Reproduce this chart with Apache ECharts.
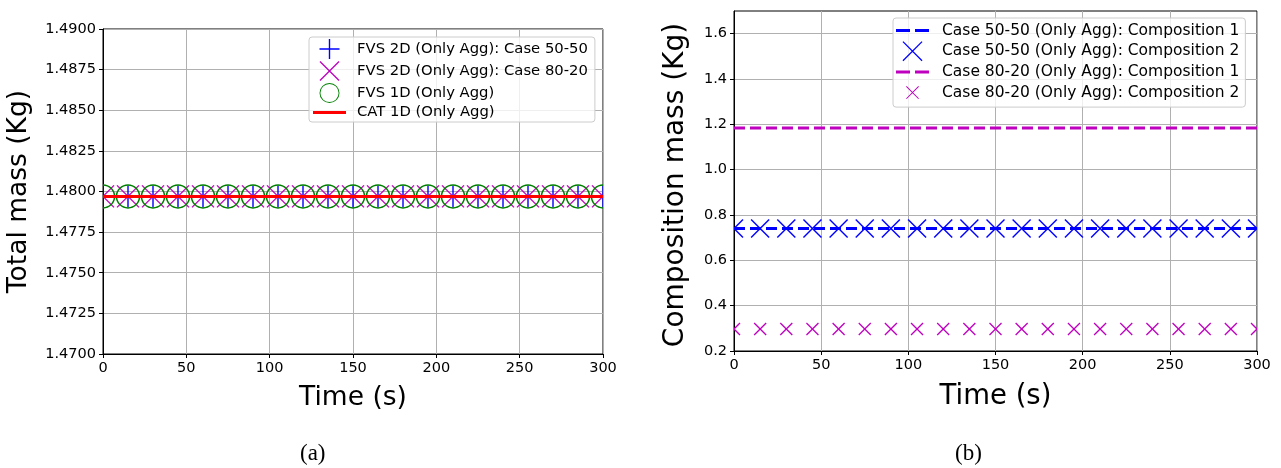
<!DOCTYPE html>
<html>
<head>
<meta charset="utf-8">
<script src="https://cdn.jsdelivr.net/npm/echarts@6/dist/echarts.min.js"></script>
<style>
html,body{margin:0;padding:0;background:#fff;}
#chart{width:1281px;height:468px;}
</style>
</head>
<body>
<div id="chart"></div>
<script>
// ---- data ----
const time = [0, 15, 30, 45, 60, 75, 90, 105, 120, 135, 150, 165, 180, 195, 210, 225, 240, 255, 270, 285, 300];
const xTicks = [0, 50, 100, 150, 200, 250, 300];
const leftYTicks = [1.4700, 1.4725, 1.4750, 1.4775, 1.4800, 1.4825, 1.4850, 1.4875, 1.4900];
const rightYTicks = [0.2, 0.4, 0.6, 0.8, 1.0, 1.2, 1.4, 1.6];

const fvs2d_5050 = [1.4797, 1.4797, 1.4797, 1.4797, 1.4797, 1.4797, 1.4797, 1.4797, 1.4797, 1.4797, 1.4797, 1.4797, 1.4797, 1.4797, 1.4797, 1.4797, 1.4797, 1.4797, 1.4797, 1.4797, 1.4797];
const fvs2d_8020 = [1.4797, 1.4797, 1.4797, 1.4797, 1.4797, 1.4797, 1.4797, 1.4797, 1.4797, 1.4797, 1.4797, 1.4797, 1.4797, 1.4797, 1.4797, 1.4797, 1.4797, 1.4797, 1.4797, 1.4797, 1.4797];
const fvs1d = [1.4797, 1.4797, 1.4797, 1.4797, 1.4797, 1.4797, 1.4797, 1.4797, 1.4797, 1.4797, 1.4797, 1.4797, 1.4797, 1.4797, 1.4797, 1.4797, 1.4797, 1.4797, 1.4797, 1.4797, 1.4797];
const cat1d = [1.4797, 1.4797, 1.4797, 1.4797, 1.4797, 1.4797, 1.4797, 1.4797, 1.4797, 1.4797, 1.4797, 1.4797, 1.4797, 1.4797, 1.4797, 1.4797, 1.4797, 1.4797, 1.4797, 1.4797, 1.4797];

const c5050_comp1 = [0.740, 0.740, 0.740, 0.740, 0.740, 0.740, 0.740, 0.740, 0.740, 0.740, 0.740, 0.740, 0.740, 0.740, 0.740, 0.740, 0.740, 0.740, 0.740, 0.740, 0.740];
const c5050_comp2 = [0.740, 0.740, 0.740, 0.740, 0.740, 0.740, 0.740, 0.740, 0.740, 0.740, 0.740, 0.740, 0.740, 0.740, 0.740, 0.740, 0.740, 0.740, 0.740, 0.740, 0.740];
const c8020_comp1 = [1.184, 1.184, 1.184, 1.184, 1.184, 1.184, 1.184, 1.184, 1.184, 1.184, 1.184, 1.184, 1.184, 1.184, 1.184, 1.184, 1.184, 1.184, 1.184, 1.184, 1.184];
const c8020_comp2 = [0.297, 0.297, 0.297, 0.297, 0.297, 0.297, 0.297, 0.297, 0.297, 0.297, 0.297, 0.297, 0.297, 0.297, 0.297, 0.297, 0.297, 0.297, 0.297, 0.297, 0.297];

const leftNames = ['FVS 2D (Only Agg): Case 50-50', 'FVS 2D (Only Agg): Case 80-20', 'FVS 1D (Only Agg)', 'CAT 1D (Only Agg)'];
const rightNames = ['Case 50-50 (Only Agg): Composition 1', 'Case 50-50 (Only Agg): Composition 2', 'Case 80-20 (Only Agg): Composition 1', 'Case 80-20 (Only Agg): Composition 2'];

// ---- rendering ----
const ICON_PLUS = 'path://M-0.7,-10 L0.7,-10 L0.7,10 L-0.7,10 Z M-10,-0.7 L10,-0.7 L10,0.7 L-10,0.7 Z';
const ICON_CROSS = 'path://M-10,-9.1 L-9.1,-10 L10,9.1 L9.1,10 Z M9.1,-10 L10,-9.1 L-9.1,10 L-10,9.1 Z';
const ICON_CROSS_SMALL = 'path://M-6.5,-5.8 L-5.8,-6.5 L6.5,5.8 L5.8,6.5 Z M5.8,-6.5 L6.5,-5.8 L-5.8,6.5 L-6.5,5.8 Z M-10,-10 L-9.98,-10 L-10,-9.98 Z M10,10 L9.98,10 L10,9.98 Z';
const ICON_RING = 'path://M-10,0 A10,10 0 1,0 10,0 A10,10 0 1,0 -10,0 Z M-9.1,0 A9.1,9.1 0 1,1 9.1,0 A9.1,9.1 0 1,1 -9.1,0 Z';
const ICON_LINE = 'path://M0,0 L33,0 L33,3 L0,3 Z';
const ICON_DASH = 'path://M0,0 L14,0 L14,3 L0,3 Z M19,0 L33,0 L33,3 L19,3 Z';
const FONT = 'DejaVu Sans';
const pair = (arr) => time.map((t, i) => [t, arr[i]]);

function markerSeries(name, gi, arr, kind, size, color, lw, z) {
  return {
    name: name, type: 'custom', xAxisIndex: gi, yAxisIndex: gi, data: pair(arr),
    clip: true, z: z, itemStyle: { color: color },
    encode: { x: 0, y: 1 },
    renderItem: function (params, api) {
      const p = api.coord([api.value(0), api.value(1)]);
      const h = size / 2;
      const style = { stroke: color, lineWidth: lw, fill: null };
      let children;
      if (kind === 'plus') {
        children = [
          { type: 'line', shape: { x1: p[0] - h, y1: p[1], x2: p[0] + h, y2: p[1] }, style: style },
          { type: 'line', shape: { x1: p[0], y1: p[1] - h, x2: p[0], y2: p[1] + h }, style: style }
        ];
      } else if (kind === 'cross') {
        children = [
          { type: 'line', shape: { x1: p[0] - h, y1: p[1] - h, x2: p[0] + h, y2: p[1] + h }, style: style },
          { type: 'line', shape: { x1: p[0] - h, y1: p[1] + h, x2: p[0] + h, y2: p[1] - h }, style: style }
        ];
      } else {
        children = [
          { type: 'circle', shape: { cx: p[0], cy: p[1], r: h }, style: style }
        ];
      }
      return { type: 'group', children: children };
    }
  };
}

function xAxis(gi, fs, gap) {
  return {
    type: 'value', gridIndex: gi, min: 0, max: 300, interval: 50,
    name: 'Time (s)', nameLocation: 'middle', nameGap: gap,
    nameTextStyle: { fontFamily: FONT, fontSize: fs, color: '#000' },
    axisLine: { show: true, onZero: false, lineStyle: { color: '#000', width: 1 } },
    axisTick: { show: true, inside: false, length: 4, lineStyle: { color: '#000' } },
    axisLabel: { fontFamily: FONT, fontSize: 14.5, color: '#000', margin: 7 },
    splitLine: { show: true, lineStyle: { color: '#b0b0b0', width: 1 } }
  };
}

const option = {
  animation: false,
  backgroundColor: '#fff',
  grid: [
    { left: 103, right: 678, top: 29, bottom: 114, show: true, borderColor: '#000', borderWidth: 1, backgroundColor: 'transparent' },
    { left: 734, right: 24, top: 11, bottom: 117, show: true, borderColor: '#000', borderWidth: 1, backgroundColor: 'transparent' }
  ],
  xAxis: [xAxis(0, 26.5, 31), xAxis(1, 27.5, 32)],
  yAxis: [
    {
      type: 'value', gridIndex: 0, min: 1.47, max: 1.49, interval: 0.0025,
      name: 'Total mass (Kg)', nameLocation: 'middle', nameGap: 70,
      nameTextStyle: { fontFamily: FONT, fontSize: 26.5, color: '#000' },
      axisLine: { show: true, lineStyle: { color: '#000' } },
      axisTick: { show: true, length: 4, lineStyle: { color: '#000' } },
      axisLabel: { fontFamily: FONT, fontSize: 14.5, color: '#000', margin: 7,
        formatter: (v) => v.toFixed(4), customValues: leftYTicks },
      splitLine: { show: true, lineStyle: { color: '#b0b0b0', width: 1 } }
    },
    {
      type: 'value', gridIndex: 1, min: 0.2, max: 1.7, interval: 0.2,
      name: 'Composition mass (Kg)', nameLocation: 'middle', nameGap: 44,
      nameTextStyle: { fontFamily: FONT, fontSize: 28, color: '#000', padding: [0, 8, 0, 0] },
      axisLine: { show: true, lineStyle: { color: '#000' } },
      axisTick: { show: true, length: 4, lineStyle: { color: '#000' }, customValues: rightYTicks },
      axisLabel: { fontFamily: FONT, fontSize: 14.5, color: '#000', margin: 7,
        formatter: (v) => v.toFixed(1), customValues: rightYTicks },
      splitLine: { show: true, lineStyle: { color: '#b0b0b0', width: 1 } }
    }
  ],
  legend: [
    {
      left: 309, top: 37, orient: 'vertical',
      itemWidth: 33, itemHeight: 20, itemGap: 2,
      padding: [2, 7, 2, 4],
      backgroundColor: 'rgba(255,255,255,0.8)', borderColor: '#cccccc', borderWidth: 1, borderRadius: 3,
      textStyle: { fontFamily: FONT, fontSize: 14.8, color: '#000', padding: [0, 0, 0, 6] },
      data: [
        { name: leftNames[0], icon: ICON_PLUS },
        { name: leftNames[1], icon: ICON_CROSS },
        { name: leftNames[2], icon: ICON_RING },
        { name: leftNames[3], icon: ICON_LINE }
      ]
    },
    {
      left: 893, top: 18, orient: 'vertical',
      itemWidth: 33, itemHeight: 20, itemGap: 2.7,
      padding: [4.5, 6, 4.5, 3],
      backgroundColor: 'rgba(255,255,255,0.8)', borderColor: '#cccccc', borderWidth: 1, borderRadius: 3,
      textStyle: { fontFamily: FONT, fontSize: 15.5, color: '#000', padding: [0, 0, 0, 8] },
      data: [
        { name: rightNames[0], icon: ICON_DASH },
        { name: rightNames[1], icon: ICON_CROSS },
        { name: rightNames[2], icon: ICON_DASH },
        { name: rightNames[3], icon: ICON_CROSS_SMALL }
      ]
    }
  ],
  series: [
    markerSeries(leftNames[0], 0, fvs2d_5050, 'plus', 22, '#0000ff', 1.4, 2),
    markerSeries(leftNames[1], 0, fvs2d_8020, 'cross', 22, '#bf00bf', 1.4, 3),
    markerSeries(leftNames[2], 0, fvs1d, 'circle', 23, '#008000', 1.5, 4),
    { name: leftNames[3], type: 'line', xAxisIndex: 0, yAxisIndex: 0, data: pair(cat1d),
      symbol: 'none', lineStyle: { color: '#ff0000', width: 3 }, itemStyle: { color: '#ff0000' }, z: 5 },

    { name: rightNames[0], type: 'line', xAxisIndex: 1, yAxisIndex: 1, data: pair(c5050_comp1),
      symbol: 'none', lineStyle: { color: '#0000ff', width: 3, type: [11, 5] }, itemStyle: { color: '#0000ff' }, z: 2 },
    markerSeries(rightNames[1], 1, c5050_comp2, 'cross', 18, '#0000ff', 1.4, 3),
    { name: rightNames[2], type: 'line', xAxisIndex: 1, yAxisIndex: 1, data: pair(c8020_comp1),
      symbol: 'none', lineStyle: { color: '#bf00bf', width: 3, type: [11, 5] }, itemStyle: { color: '#bf00bf' }, z: 2 },
    markerSeries(rightNames[3], 1, c8020_comp2, 'cross', 12, '#bf00bf', 1.3, 3)
  ],
  graphic: [
    { type: 'text', style: { text: '(a)', fontFamily: 'Liberation Serif', fontSize: 23, fill: '#000' },
      left: 300, top: 442 },
    { type: 'text', style: { text: '(b)', fontFamily: 'Liberation Serif', fontSize: 23, fill: '#000' },
      left: 955, top: 442 }
  ]
};

const chart = echarts.init(document.getElementById('chart'), null, { renderer: 'canvas' });
chart.setOption(option);
</script>
</body>
</html>
